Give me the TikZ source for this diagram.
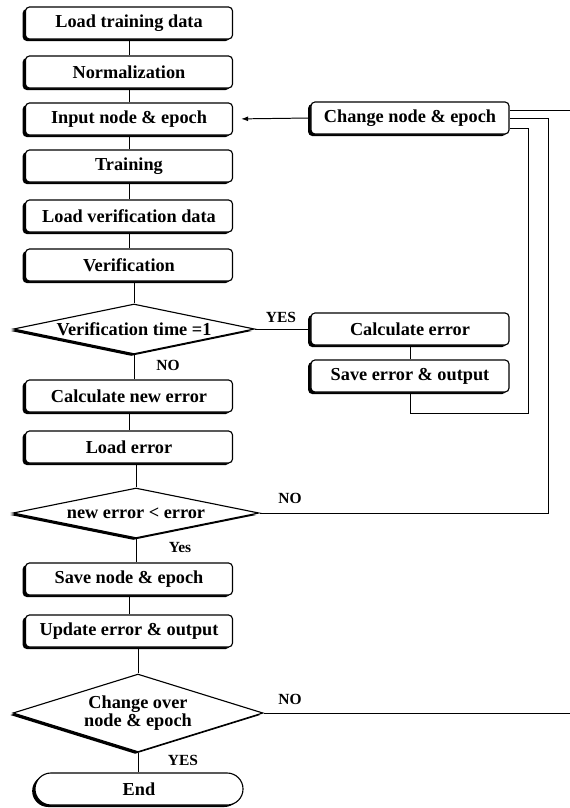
\documentclass[tikz,border=0pt]{standalone}
\usepackage{fontspec}
\setmainfont{Liberation Serif}
\usetikzlibrary{arrows.meta, shapes.geometric, shadows}

\tikzset{
  boxshadow/.style={drop shadow={shadow xshift=-0.07cm, shadow yshift=-0.05cm, fill=black, opacity=1}},
  stepbox/.style={draw, fill=white, line width=0.8pt, rounded corners=0.1cm,
    minimum width=5.175cm, minimum height=0.8cm, inner sep=1pt,
    font=\fontsize{13}{15}\selectfont\bfseries, boxshadow},
  sidebox/.style={stepbox, minimum width=4.95cm},
  decision/.style={diamond, draw, fill=white, line width=0.8pt, aspect=5, inner sep=0pt,
    align=center, font=\fontsize{13}{13}\selectfont\bfseries, boxshadow},
  endbox/.style={stepbox, rounded corners=0.4cm, minimum width=5.2cm},
  lbl/.style={font=\fontsize{11}{13}\selectfont\bfseries, inner sep=0pt},
  link/.style={line width=0.7pt}
}

\begin{document}
\begin{tikzpicture}[x=0.025cm, y=-0.025cm]
  \useasboundingbox (0,0) rectangle (570,808);

  % main column
  \node[stepbox] (ltd) at (129,23) {Load training data};
  \node[stepbox] (norm) at (129,72) {Normalization};
  \node[stepbox] (inp) at (129,119) {Input node \& epoch};
  \node[stepbox] (train) at (129,166) {Training};
  \node[stepbox] (lvd) at (129,216) {Load verification data};
  \node[stepbox] (verif) at (129,265) {Verification};
  \node[decision, minimum width=6.025cm, minimum height=1.25cm] (d1) at (134,329) {Verification time =1};
  \node[stepbox] (cne) at (129,396) {Calculate new error};
  \node[stepbox] (lerr) at (129,447) {Load error};
  \node[decision, minimum width=6.15cm, minimum height=1.25cm] (d2) at (136,513) {new error {<} error};
  \node[stepbox] (sne) at (129,579) {Save node \& epoch};
  \node[stepbox] (upd) at (129,631) {Update error \& output};
  \node[decision, aspect=2.5, minimum width=6.25cm, minimum height=1.825cm] (d3) at (138,713) {Change over\\node \& epoch};
  \node[endbox] (endn) at (139,789) {End};

  % right side
  \node[sidebox] (chg) at (410,118) {Change node \& epoch};
  \node[sidebox] (calce) at (410,329) {Calculate error};
  \node[sidebox] (saveerr) at (410,376) {Save error \& output};

  \coordinate (loopA) at (528,413);
  \coordinate (noB) at (548,118);
  \coordinate (edgeR) at (570,0);

  % labels
  \node[lbl] (yes1) at (281,317) {YES};
  \node[lbl] (no1) at (168,365) {NO};
  \node[lbl] (no2) at (290,498) {NO};
  \node[lbl] (yes2) at (180,548) {Yes};
  \node[lbl] (no3) at (290,699) {NO};
  \node[lbl] (yes3) at (183,760) {YES};

  % connectors
  \draw[link] (ltd) -- (norm) (norm) -- (inp) (inp) -- (train) (train) -- (lvd)
    (lvd) -- (verif) (cne) -- (lerr) (sne) -- (upd);
  \draw[link] (d1.north) -- (d1.north |- verif.south) (d1.south) -- (d1.south |- cne.north);
  \draw[link] (d2.north) -- (d2.north |- lerr.south) (d2.south) -- (d2.south |- sne.north);
  \draw[link] (d3.north) -- (d3.north |- upd.south) (d3.south) -- (d3.south |- endn.north);
  \draw[link, -{Latex[length=5pt,width=3.5pt]}, shorten >=0.2cm] (chg.west) -- (inp.east);
  \draw[link] (d1.east) -- (calce.west);
  \draw[link] (calce) -- (saveerr);
  \draw[link] (saveerr.south) |- (loopA) |- ([yshift=-0.25cm]chg.east);
  \draw[link] (d2.east) -| (noB) -- (chg.east);
  \draw[link] (d3.east) -- (d3.east -| edgeR);
  \draw[link] ([yshift=0.2cm]chg.east) coordinate (topR) -- (topR -| edgeR);
\end{tikzpicture}
\end{document}
